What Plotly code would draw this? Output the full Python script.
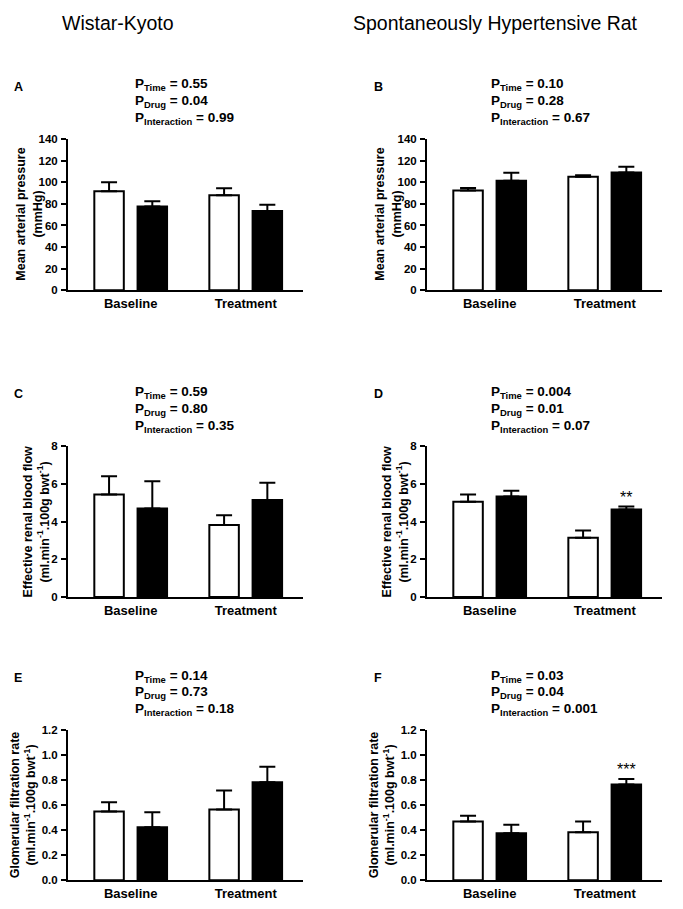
import plotly.graph_objects as go

# ---------------- data ----------------
groups = ["Baseline", "Treatment"]

mabp_wky_vehicle = [91.8, 88.1]
mabp_wky_vehicle_err = [8.2, 6.4]
mabp_wky_drug = [77.5, 73.5]
mabp_wky_drug_err = [4.9, 5.8]
mabp_shr_vehicle = [92.4, 105.2]
mabp_shr_vehicle_err = [2.4, 1.5]
mabp_shr_drug = [101.6, 109.2]
mabp_shr_drug_err = [7.3, 5.2]

erbf_wky_vehicle = [5.44, 3.82]
erbf_wky_vehicle_err = [0.96, 0.51]
erbf_wky_drug = [4.69, 5.14]
erbf_wky_drug_err = [1.45, 0.92]
erbf_shr_vehicle = [5.05, 3.15]
erbf_shr_vehicle_err = [0.38, 0.38]
erbf_shr_drug = [5.33, 4.64]
erbf_shr_drug_err = [0.31, 0.16]

gfr_wky_vehicle = [0.55, 0.566]
gfr_wky_vehicle_err = [0.074, 0.153]
gfr_wky_drug = [0.424, 0.784]
gfr_wky_drug_err = [0.121, 0.124]
gfr_shr_vehicle = [0.471, 0.384]
gfr_shr_vehicle_err = [0.045, 0.087]
gfr_shr_drug = [0.376, 0.766]
gfr_shr_drug_err = [0.068, 0.045]

column_titles = ["Wistar-Kyoto", "Spontaneously Hypertensive Rat"]
panel_letters = ["A", "B", "C", "D", "E", "F"]
p_values = [
    ["0.55", "0.04", "0.99"],
    ["0.10", "0.28", "0.67"],
    ["0.59", "0.80", "0.35"],
    ["0.004", "0.01", "0.07"],
    ["0.14", "0.73", "0.18"],
    ["0.03", "0.04", "0.001"],
]
y_titles = [
    "Mean arterial pressure<br>(mmHg)",
    "Effective renal blood flow<br>(ml.min<sup>-1</sup>.100g bwt<sup>-1</sup>)",
    "Glomerular filtration rate<br>(ml.min<sup>-1</sup>.100g bwt<sup>-1</sup>)",
]
y_ranges = [[0, 140], [0, 8], [0, 1.2]]
y_dticks = [20, 2, 0.2]
y_tickformats = ["d", "d", ".1f"]
# significance markers: (panel index, group, text)
sig_marks = [(3, "Treatment", "**"), (5, "Treatment", "***")]

panels = [
    (mabp_wky_vehicle, mabp_wky_vehicle_err, mabp_wky_drug, mabp_wky_drug_err),
    (mabp_shr_vehicle, mabp_shr_vehicle_err, mabp_shr_drug, mabp_shr_drug_err),
    (erbf_wky_vehicle, erbf_wky_vehicle_err, erbf_wky_drug, erbf_wky_drug_err),
    (erbf_shr_vehicle, erbf_shr_vehicle_err, erbf_shr_drug, erbf_shr_drug_err),
    (gfr_wky_vehicle, gfr_wky_vehicle_err, gfr_wky_drug, gfr_wky_drug_err),
    (gfr_shr_vehicle, gfr_shr_vehicle_err, gfr_shr_drug, gfr_shr_drug_err),
]

# ---------------- layout geometry (pixels) ----------------
W, H = 683, 909
FONT = "Liberation Sans, Arial, Helvetica, sans-serif"
col_x = [(68, 303), (427, 662)]          # axis left / right
row_y = [(135, 288), (446, 599), (734, 886)]  # top / bottom
ytitle_shift = [-39, -32, -45]
p_x = [133, 489]
p_rows = [(80, 97, 114), (392, 409, 426), (679, 696, 713)]
letter_x = [12, 372]
letter_y = [82, 393, 681]

def px_x(v):
    return v / W

def px_y(v):
    return 1 - v / H

fig = go.Figure()
layout = dict(
    width=W, height=H,
    margin=dict(l=0, r=0, t=0, b=0),
    paper_bgcolor="white", plot_bgcolor="white",
    showlegend=False,
    barmode="group", bargap=0.248, bargroupgap=0.318,
    font=dict(family=FONT, color="black"),
)
annotations = []

for i, (v_mean, v_err, d_mean, d_err) in enumerate(panels):
    r, c = divmod(i, 2)
    n = i + 1
    xa = "x" if n == 1 else f"x{n}"
    ya = "y" if n == 1 else f"y{n}"
    fig.add_trace(go.Bar(
        x=groups, y=v_mean, name="Vehicle", xaxis=xa, yaxis=ya,
        marker=dict(color="white", line=dict(color="black", width=2)),
        error_y=dict(type="data", array=v_err, arrayminus=[0] * len(v_err),
                     symmetric=False, color="black", thickness=2, width=8),
    ))
    fig.add_trace(go.Bar(
        x=groups, y=d_mean, name="Drug", xaxis=xa, yaxis=ya,
        marker=dict(color="black", line=dict(color="black", width=2)),
        error_y=dict(type="data", array=d_err, arrayminus=[0] * len(d_err),
                     symmetric=False, color="black", thickness=2, width=8),
    ))
    x0, x1 = col_x[c]
    yt, yb = row_y[r]
    layout["xaxis" + ("" if n == 1 else str(n))] = dict(
        domain=[px_x(x0), px_x(x1)], anchor=ya, type="category",
        range=[-0.545, 1.498], showline=True, linecolor="black", linewidth=2,
        ticks="", showgrid=False, zeroline=False,
        tickfont=dict(size=13, family=FONT, weight="bold", color="black"),
        fixedrange=True,
    )
    layout["yaxis" + ("" if n == 1 else str(n))] = dict(
        domain=[px_y(yb), px_y(yt)], anchor=xa, range=y_ranges[r],
        dtick=y_dticks[r], tick0=0, tickformat=y_tickformats[r],
        showline=True, linecolor="black", linewidth=2,
        ticks="outside", ticklen=5, tickwidth=2, tickcolor="black",
        showgrid=False, zeroline=False, ticklabelstandoff=1,
        tickfont=dict(size=11.5, family=FONT, weight="bold", color="black"),
        fixedrange=True,
    )
    # y axis title
    annotations.append(dict(
        text="<b>" + y_titles[r] + "</b>", textangle=-90,
        xref="paper", yref="paper", x=px_x(x0), y=px_y((yt + yb) / 2),
        xanchor="center", yanchor="middle", xshift=ytitle_shift[r],
        showarrow=False, font=dict(size=12.5, family=FONT, color="black"),
    ))
    # panel letter
    annotations.append(dict(
        text="<b>" + panel_letters[i] + "</b>", xref="paper", yref="paper",
        x=px_x(letter_x[c]), y=px_y(letter_y[r]), xanchor="left", yanchor="middle",
        showarrow=False, font=dict(size=12.5, family=FONT, color="black"),
    ))
    # p-values
    labels = ["Time", "Drug", "Interaction"]
    for k, (lab, pv) in enumerate(zip(labels, p_values[i])):
        annotations.append(dict(
            text=f"<b>P<sub>{lab}</sub> = {pv}</b>", xref="paper", yref="paper",
            x=px_x(p_x[c]), y=px_y(p_rows[r][k]), xanchor="left", yanchor="middle",
            showarrow=False, font=dict(size=13.5, family=FONT, color="black"),
        ))

# significance asterisks above the drug bars
for (pi, grp, txt) in sig_marks:
    _, _, d_mean, d_err = panels[pi]
    gi = groups.index(grp)
    n = pi + 1
    annotations.append(dict(
        text=txt, xref="x" if n == 1 else f"x{n}", yref="y" if n == 1 else f"y{n}",
        x=grp, y=d_mean[gi] + d_err[gi], xshift=21.6, yshift=-1,
        xanchor="center", yanchor="bottom", showarrow=False,
        font=dict(size=16, family=FONT, color="black"),
    ))

# column titles
for c, t in enumerate(column_titles):
    annotations.append(dict(
        text=t, xref="paper", yref="paper",
        x=px_x([118, 495][c]), y=px_y(17), xanchor="center", yanchor="middle",
        showarrow=False, font=dict(size=19.5, family=FONT, color="black"),
    ))

layout["annotations"] = annotations
fig.update_layout(**layout)
fig.write_html(
    "out.html",
    config={"displayModeBar": False, "staticPlot": True},
    post_script=(
        "document.body.style.margin='0px';document.body.style.padding='0px';"
        "document.body.style.overflow='hidden';"
        "document.documentElement.style.overflow='hidden';"
    ),
)
